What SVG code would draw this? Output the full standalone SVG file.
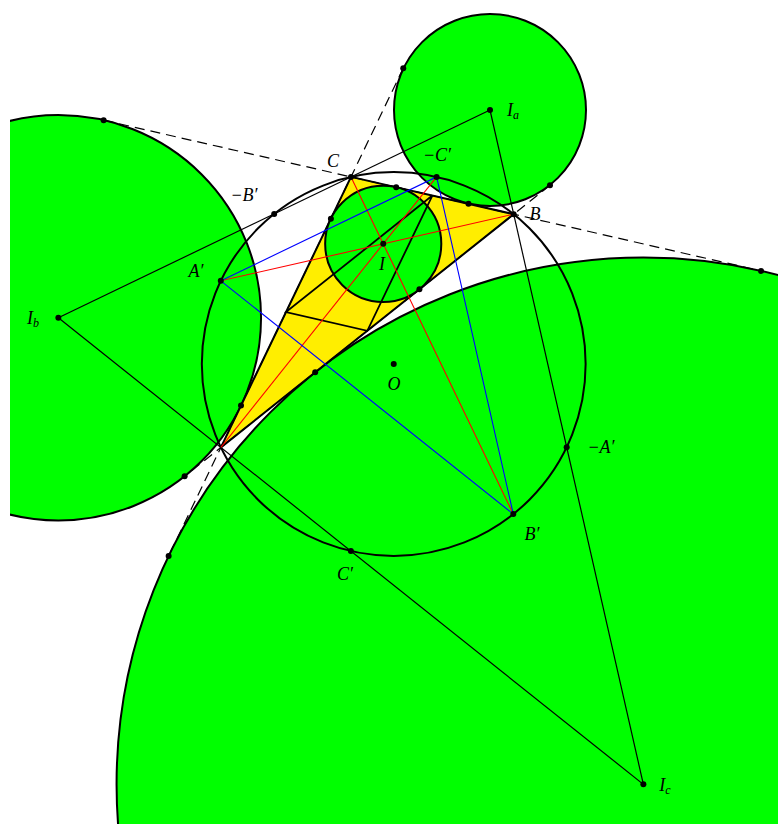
<svg xmlns="http://www.w3.org/2000/svg" width="783" height="835" viewBox="0 0 783 835">
<defs>
<clipPath id="frame"><rect x="10" y="0" width="768" height="824"/></clipPath>
<style>
.disk{fill:#00ff00;stroke:#000;stroke-width:2}
.circ{fill:none;stroke:#000;stroke-width:2}
.tri{fill:#ffee00;stroke:#000;stroke-width:2;stroke-linejoin:round}
.med{fill:none;stroke:#000;stroke-width:1.8}
.thin{stroke:#000;stroke-width:1.2;fill:none}
.dash{stroke:#000;stroke-width:1.2;stroke-dasharray:10 6;fill:none}
.red{stroke:#ff0000;stroke-width:1.1;fill:none}
.blue{stroke:#0000ff;stroke-width:1.1;fill:none}
.dot{fill:#000}
text{font-family:"Liberation Serif","DejaVu Serif",serif;font-style:italic;font-size:18px;fill:#000;text-anchor:middle}
.sub{font-size:12px}
</style>
</defs>
<rect width="783" height="835" fill="#fff"/>
<g clip-path="url(#frame)">
<g id="excircle-a"><circle class="disk" cx="490" cy="110" r="96"/></g>
<g id="excircle-b"><circle class="disk" cx="58.35" cy="317.75" r="202.7"/></g>
<g id="excircle-c"><circle class="disk" cx="643.36" cy="784.36" r="526.8"/></g>
<g id="triangle-abc"><polygon class="tri" points="220.9,447.4 513.7,214.2 351,176.9"/></g>
<g id="incircle"><circle class="disk" cx="383.23" cy="243.87" r="58.07"/></g>
<g id="circumcircle"><circle class="circ" cx="393.73" cy="363.99" r="191.9"/></g>
<g id="connectors">
<line class="dash" x1="103.63" y1="120.19" x2="761.07" y2="270.91"/>
<line class="dash" x1="403.25" y1="68.27" x2="168.65" y2="556.03"/>
<line class="dash" x1="549.98" y1="185.3" x2="184.62" y2="476.29"/>
<polygon class="med" points="432.35,195.55 285.95,312.15 367.3,330.8"/>
<line class="thin" x1="58.35" y1="317.75" x2="490" y2="110"/>
<line class="thin" x1="490" y1="110" x2="643.36" y2="784.36"/>
<line class="thin" x1="58.35" y1="317.75" x2="643.36" y2="784.36"/>
<line class="red" x1="220.9" y1="447.4" x2="436.6" y2="176.9"/>
<line class="red" x1="513.7" y1="214.2" x2="220.79" y2="280.81"/>
<line class="red" x1="351" y1="176.9" x2="513.3" y2="514.12"/>
<polygon class="blue" points="220.79,280.81 513.3,514.12 436.6,176.9"/>
</g>
<g id="points">
<circle class="dot" cx="351" cy="176.9" r="3"/>
<circle class="dot" cx="513.7" cy="214.2" r="3"/>
<circle class="dot" cx="383.23" cy="243.87" r="3"/>
<circle class="dot" cx="393.73" cy="363.99" r="3"/>
<circle class="dot" cx="490" cy="110" r="3"/>
<circle class="dot" cx="58.35" cy="317.75" r="3"/>
<circle class="dot" cx="643.36" cy="784.36" r="3"/>
<circle class="dot" cx="436.6" cy="176.9" r="3"/>
<circle class="dot" cx="220.79" cy="280.81" r="3"/>
<circle class="dot" cx="513.3" cy="514.12" r="3"/>
<circle class="dot" cx="350.86" cy="551.06" r="3"/>
<circle class="dot" cx="566.68" cy="447.18" r="3"/>
<circle class="dot" cx="274.18" cy="213.88" r="3"/>
<circle class="dot" cx="103.63" cy="120.19" r="3"/>
<circle class="dot" cx="761.07" cy="270.91" r="3"/>
<circle class="dot" cx="468.49" cy="203.84" r="3"/>
<circle class="dot" cx="396.21" cy="187.26" r="3"/>
<circle class="dot" cx="330.9" cy="218.7" r="3"/>
<circle class="dot" cx="241" cy="405.6" r="3"/>
<circle class="dot" cx="403.25" cy="68.27" r="3"/>
<circle class="dot" cx="168.65" cy="556.03" r="3"/>
<circle class="dot" cx="419.41" cy="289.29" r="3"/>
<circle class="dot" cx="315.19" cy="372.3" r="3"/>
<circle class="dot" cx="549.98" cy="185.3" r="3"/>
<circle class="dot" cx="184.62" cy="476.29" r="3"/>
</g>
</g>
<g id="labels">
<text x="333" y="167">C</text>
<text x="437" y="161">−C′</text>
<text x="535" y="220">B</text>
<text x="382" y="270">I</text>
<text x="196" y="277">A′</text>
<text x="244" y="201">−B′</text>
<text x="33" y="324">I<tspan class="sub" dy="3">b</tspan></text>
<text x="394" y="390">O</text>
<text x="601" y="453">−A′</text>
<text x="532" y="540">B′</text>
<text x="345" y="580">C′</text>
<text x="665" y="791">I<tspan class="sub" dy="3">c</tspan></text>
<text x="513" y="116">I<tspan class="sub" dy="3">a</tspan></text>
</g>
</svg>
